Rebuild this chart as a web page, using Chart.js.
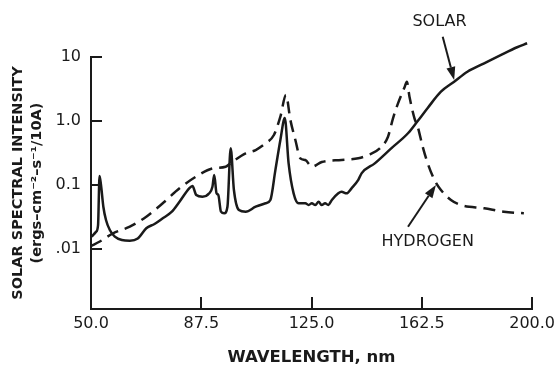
<!DOCTYPE html>
<html>
<head>
<meta charset="utf-8">
<script src="https://cdn.jsdelivr.net/npm/chart.js@4.4.1/dist/chart.umd.min.js"></script>
<style>
  html, body { margin: 0; padding: 0; background: #fff; }
</style>
</head>
<body>
<canvas id="chart" width="560" height="369"></canvas>
<script>
// solar spectrum (solid line), wavelength in nm and intensity
const solarNm = [50.2, 51.7, 52.4, 52.9, 53.4, 54.2, 55.1, 56.4, 58.1, 60.5, 63.2, 65.9, 68.8, 71.6, 74.4, 77.4,
  80.1, 83.4, 84.5, 85.8, 87.9, 90.2, 91.3, 91.9, 92.7, 93.3, 94.2, 95.3, 96.4, 97.5, 98.6, 100.3, 102.6,
  106.0, 109.4, 111.0, 112.7, 114.4, 115.9, 117.2, 118.9, 120.6, 122.9, 124.0, 125.1, 126.3, 127.4, 128.4,
  129.6, 130.7, 131.9, 134.1, 135.2, 136.9, 138.6, 140.9, 142.0, 146.5, 152.1, 157.8, 161.1, 164.5, 169.0,
  173.5, 178.0, 183.7, 189.3, 194.9, 198.3];
const solarIntensity = [0.0156, 0.0185, 0.0237, 0.138, 0.10, 0.0458, 0.0284, 0.0198, 0.0156, 0.0138, 0.0135,
  0.0146, 0.0211, 0.0246, 0.0302, 0.0379, 0.0548, 0.0887, 0.0964, 0.0698, 0.0656, 0.0741, 0.094, 0.143,
  0.0741, 0.0698, 0.0383, 0.0361, 0.0458, 0.374, 0.0836, 0.0407, 0.0383, 0.0458, 0.0518, 0.0583, 0.171,
  0.505, 1.11, 0.218, 0.0741, 0.0518, 0.0518, 0.0487, 0.0518, 0.0487, 0.0548, 0.0487, 0.0518, 0.0487,
  0.0583, 0.0741, 0.0786, 0.0741, 0.0887, 0.12, 0.152, 0.218, 0.374, 0.643, 1.0, 1.6, 2.87, 4.11, 5.89,
  7.97, 10.7, 14.2, 16.4];

// hydrogen spectrum (dashed line)
const hydrogenNm = [50.0, 53.0, 57.5, 63.2, 68.8, 74.4, 80.1, 85.7, 91.3, 95.8, 98.1, 102.6, 106.0, 109.4,
  112.2, 114.4, 116.3, 117.8, 119.5, 121.2, 122.9, 125.1, 128.5, 135.2, 140.9, 144.3, 148.2, 151.0, 152.7,
  154.4, 156.7, 157.4, 158.3, 160.0, 161.1, 162.8, 164.5, 166.8, 169.0, 172.4, 175.8, 183.7, 190.4, 197.2];
const hydrogenIntensity = [0.0111, 0.0131, 0.0176, 0.0223, 0.032, 0.0518, 0.0887, 0.135, 0.182, 0.193,
  0.231, 0.313, 0.352, 0.449, 0.604, 1.17, 2.55, 1.04, 0.505, 0.261, 0.246, 0.193, 0.229, 0.246, 0.261,
  0.294, 0.374, 0.569, 1.10, 1.89, 3.43, 4.11, 2.40, 1.10, 0.815, 0.396, 0.218, 0.12, 0.0836, 0.0583,
  0.0487, 0.0433, 0.0383, 0.0361];

// axis ticks
const xTickValues = [50, 87.5, 125, 162.5, 200];
const xTickLabels = ['50.0', '87.5', '125.0', '162.5', '200.0'];
const yTickValues = [0.01, 0.1, 1, 10];
const yTickLabels = ['.01', '0.1', '1.0', '10'];

// callout labels, in data units: label centre, arrow tail, arrow tip
const callouts = [
  { text: 'SOLAR', at: [168.5, 35.6], from: [169.6, 20.8], to: [173.5, 4.37] },
  { text: 'HYDROGEN', at: [164.5, 0.013], from: [157.8, 0.0223], to: [167.3, 0.1] }
];

const ink = '#1a1a1a';
const font = 'DejaVu Sans';

const toPoints = (xs, ys) => xs.map((x, i) => ({ x, y: ys[i] }));

// tick marks point into the plot, so draw them by hand
const inwardTicks = {
  id: 'inwardTicks',
  afterDraw(chart) {
    const { ctx, chartArea, scales } = chart;
    ctx.save();
    ctx.strokeStyle = ink;
    ctx.lineWidth = 2;
    ctx.beginPath();
    yTickValues.forEach(v => {
      const py = Math.round(scales.y.getPixelForValue(v));
      ctx.moveTo(chartArea.left, py);
      ctx.lineTo(chartArea.left + 11, py);
    });
    xTickValues.forEach(v => {
      const px = Math.round(scales.x.getPixelForValue(v));
      ctx.moveTo(px, chartArea.bottom);
      ctx.lineTo(px, chartArea.bottom - 12);
    });
    ctx.stroke();
    ctx.restore();
  }
};

const calloutPlugin = {
  id: 'callouts',
  afterDraw(chart) {
    const { ctx, scales } = chart;
    const px = p => [scales.x.getPixelForValue(p[0]), scales.y.getPixelForValue(p[1])];
    ctx.save();
    ctx.fillStyle = ink;
    ctx.strokeStyle = ink;
    ctx.lineWidth = 2;
    ctx.font = '16px "' + font + '"';
    ctx.textAlign = 'center';
    ctx.textBaseline = 'middle';
    callouts.forEach(c => {
      const [tx, ty] = px(c.at);
      ctx.fillText(c.text, tx, ty);
      const [x0, y0] = px(c.from);
      const [x1, y1] = px(c.to);
      const ang = Math.atan2(y1 - y0, x1 - x0);
      const len = 13, half = 4.5;
      const bx = x1 - len * Math.cos(ang), by = y1 - len * Math.sin(ang);
      ctx.beginPath();
      ctx.moveTo(x0, y0);
      ctx.lineTo(bx, by);
      ctx.stroke();
      ctx.beginPath();
      ctx.moveTo(x1, y1);
      ctx.lineTo(bx + half * Math.sin(ang), by - half * Math.cos(ang));
      ctx.lineTo(bx - half * Math.sin(ang), by + half * Math.cos(ang));
      ctx.closePath();
      ctx.fill();
    });
    ctx.restore();
  }
};

new Chart(document.getElementById('chart'), {
  type: 'line',
  data: {
    datasets: [
      {
        label: 'SOLAR',
        data: toPoints(solarNm, solarIntensity),
        borderColor: ink,
        borderWidth: 2.5,
        pointRadius: 0,
        cubicInterpolationMode: 'monotone',
        clip: false
      },
      {
        label: 'HYDROGEN',
        data: toPoints(hydrogenNm, hydrogenIntensity),
        borderColor: ink,
        borderWidth: 2.5,
        borderDash: [12, 7],
        pointRadius: 0,
        cubicInterpolationMode: 'monotone',
        clip: false
      }
    ]
  },
  options: {
    responsive: false,
    animation: false,
    layout: { padding: { top: 57, right: 25, left: 0, bottom: 0 } },
    plugins: { legend: { display: false }, tooltip: { enabled: false } },
    scales: {
      x: {
        type: 'linear',
        min: 50,
        max: 200,
        afterFit: s => { s.height = 60; },
        afterBuildTicks: s => { s.ticks = xTickValues.map(v => ({ value: v })); },
        grid: { display: false, drawTicks: false },
        border: { display: true, color: ink, width: 2 },
        ticks: {
          color: ink,
          padding: 5,
          maxRotation: 0,
          font: { family: font, size: 16 },
          callback: v => xTickLabels[xTickValues.indexOf(v)]
        },
        title: {
          display: true,
          text: 'WAVELENGTH, nm',
          color: ink,
          font: { family: font, size: 16.5, weight: 'bold', lineHeight: 1.2 },
          padding: { top: 0, bottom: 1 }
        }
      },
      y: {
        type: 'logarithmic',
        min: 0.001155,
        max: 10,
        afterFit: s => { s.width = 91; },
        afterBuildTicks: s => { s.ticks = yTickValues.map(v => ({ value: v })); },
        grid: { display: false, drawTicks: false },
        border: { display: true, color: ink, width: 2 },
        ticks: {
          color: ink,
          padding: 10,
          font: { family: font, size: 16 },
          callback: v => yTickLabels[yTickValues.indexOf(v)]
        },
        title: {
          display: true,
          text: ['SOLAR SPECTRAL INTENSITY', '(ergs\u2013cm\u207B\u00B2\u2013s\u207B\u00B9/10A)'],
          color: ink,
          font: { family: font, size: 14.5, weight: 'bold', lineHeight: 1.31 },
          padding: { top: 8.5, bottom: 0 }
        }
      }
    }
  },
  plugins: [inwardTicks, calloutPlugin]
});
</script>
</body>
</html>
